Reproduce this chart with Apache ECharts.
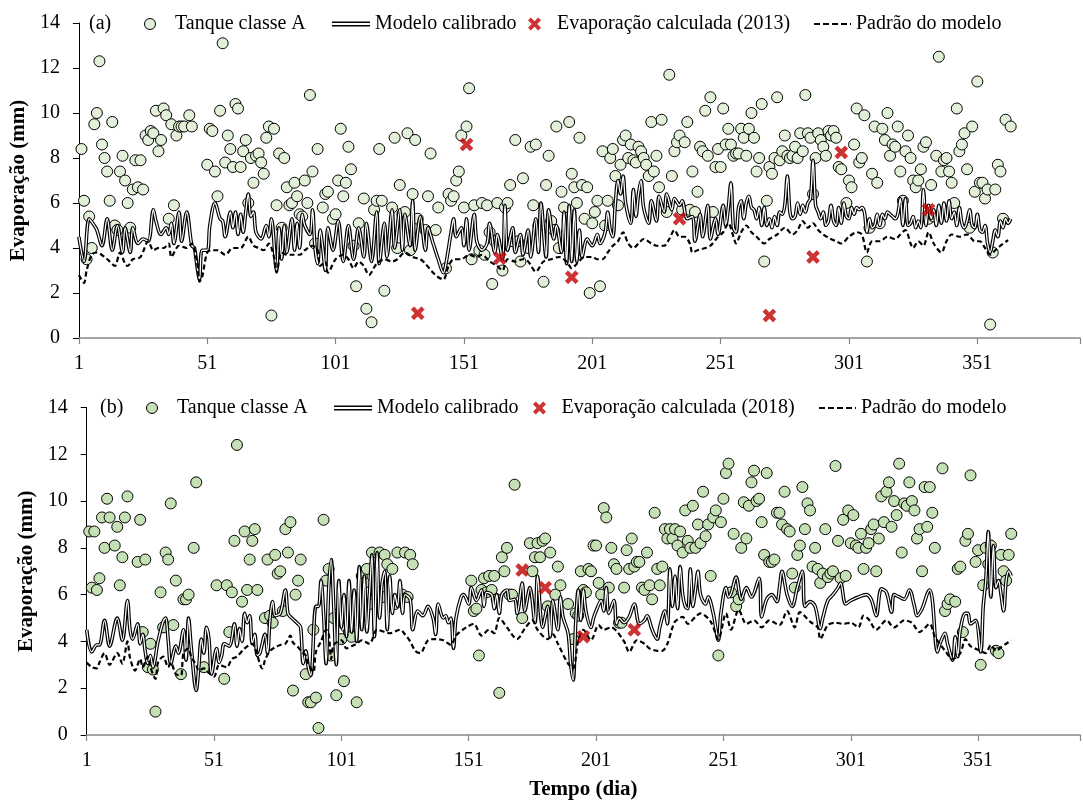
<!DOCTYPE html>
<html lang="pt">
<head>
<meta charset="UTF-8">
<title>Evaporação</title>
<script src="https://cdn.jsdelivr.net/npm/echarts@6/dist/echarts.min.js"></script>
<style>
  html, body { margin: 0; padding: 0; background: #fff; }
  #main { width: 1083px; height: 806px; }
</style>
</head>
<body>
<div id="main"></div>
<script>
// eixos
var dayTicks = [1, 51, 101, 151, 201, 251, 301, 351];
var valueTicks = [0, 2, 4, 6, 8, 10, 12, 14];

// (a) 2013 - [dia, mm]
var tanque2013 = [[2,8.4],[3,6.1],[4,3.5],[5,5.4],[6,4.0],[7,9.5],[8,10.0],[9,12.3],[10,8.6],[11,8.0],[12,7.4],[13,6.1],[14,9.6],[15,5.0],[16,4.8],[17,7.4],[18,8.1],[19,7.0],[20,6.0],[21,4.9],[22,6.6],[23,7.9],[24,6.7],[25,7.9],[26,6.6],[27,9.0],[28,8.8],[29,9.2],[30,9.1],[31,10.1],[32,8.3],[33,8.8],[34,10.2],[35,9.9],[36,5.3],[37,9.5],[38,5.9],[39,9.0],[40,9.4],[41,9.4],[42,9.4],[44,9.9],[45,9.4],[51,7.7],[52,9.3],[53,9.2],[54,7.4],[55,6.3],[56,10.1],[57,13.1],[58,7.8],[59,9.0],[60,8.4],[61,7.6],[62,10.4],[63,10.2],[64,7.6],[65,8.3],[66,8.8],[67,6.0],[68,8.0],[69,6.9],[70,8.1],[71,8.2],[72,7.8],[73,7.3],[74,8.9],[75,9.4],[76,1.0],[77,9.3],[78,5.9],[79,8.2],[80,4.9],[81,8.0],[82,6.7],[83,5.9],[84,6.0],[85,6.9],[86,6.3],[87,5.5],[88,5.4],[89,7.0],[90,6.0],[91,10.8],[92,7.4],[93,4.2],[94,8.4],[96,5.8],[97,6.4],[98,6.5],[100,5.3],[101,5.5],[102,7.0],[103,9.3],[104,6.3],[105,6.9],[106,8.5],[107,7.5],[108,4.1],[109,2.3],[110,5.1],[112,6.2],[113,1.3],[115,0.7],[116,5.7],[117,6.1],[118,8.4],[119,6.1],[120,2.1],[123,5.8],[124,8.9],[125,4.0],[126,6.8],[127,5.5],[128,5.6],[129,9.1],[130,3.9],[131,6.4],[132,8.8],[133,5.3],[136,4.8],[137,6.3],[138,8.2],[140,4.8],[141,5.8],[144,3.1],[145,6.4],[146,6.1],[147,6.3],[148,7.0],[149,7.4],[150,9.0],[151,5.8],[152,9.4],[153,11.1],[154,3.5],[155,5.9],[157,3.9],[158,6.0],[159,3.7],[160,5.9],[161,4.7],[162,2.4],[163,4.3],[164,6.0],[166,3.0],[167,5.8],[168,6.0],[169,6.8],[170,4.3],[171,8.8],[172,4.3],[173,3.4],[174,7.1],[176,4.0],[177,8.5],[178,5.9],[179,8.6],[180,5.0],[182,2.5],[183,6.8],[184,8.1],[185,5.2],[186,4.8],[187,9.4],[188,4.0],[189,6.5],[190,5.8],[191,4.7],[192,9.6],[193,7.3],[194,6.7],[195,6.0],[196,8.9],[197,6.8],[198,5.3],[199,6.7],[200,2.0],[201,5.1],[202,5.6],[203,6.1],[204,2.3],[205,8.3],[206,5.0],[207,6.1],[208,8.0],[209,8.4],[210,7.2],[211,5.9],[212,7.7],[213,8.8],[214,9.0],[215,8.0],[216,8.6],[217,7.9],[218,7.8],[219,8.5],[220,8.3],[221,8.0],[222,7.7],[223,7.2],[224,9.6],[225,7.4],[226,8.1],[227,6.7],[228,9.7],[230,5.6],[231,11.7],[232,7.2],[233,8.3],[234,8.7],[235,9.0],[236,5.7],[237,8.7],[238,9.6],[239,5.7],[240,7.4],[241,5.6],[242,6.5],[243,8.5],[244,8.3],[245,10.1],[246,8.1],[247,10.7],[248,5.6],[249,7.6],[250,8.4],[251,7.6],[252,10.2],[253,8.6],[254,9.3],[255,8.6],[256,8.1],[257,8.2],[258,8.2],[259,9.3],[260,8.9],[261,8.1],[262,9.3],[263,10.0],[264,8.9],[265,7.4],[266,8.0],[267,10.4],[268,3.4],[269,6.1],[270,7.6],[271,7.3],[272,8.0],[273,10.7],[274,7.9],[275,8.3],[276,9.0],[277,8.1],[278,8.0],[279,8.1],[280,8.5],[281,8.0],[282,9.1],[283,8.3],[284,10.8],[285,9.1],[286,8.9],[287,6.4],[288,8.0],[289,9.1],[290,8.8],[291,8.5],[292,8.1],[293,9.2],[294,9.0],[295,9.2],[296,8.9],[297,7.6],[298,7.5],[300,6.0],[301,7.0],[302,6.7],[303,8.6],[304,10.2],[305,7.8],[306,8.0],[307,9.9],[308,3.4],[309,4.9],[310,7.3],[311,9.4],[312,6.9],[313,5.1],[314,9.3],[315,8.8],[316,10.0],[317,8.1],[318,8.6],[319,8.5],[320,9.4],[321,7.4],[322,6.1],[323,8.3],[324,9.0],[325,8.0],[326,7.0],[327,6.7],[328,7.0],[329,7.5],[330,8.5],[331,8.7],[332,5.3],[333,6.8],[334,5.4],[335,8.1],[336,12.5],[337,7.4],[338,7.9],[339,8.0],[340,7.4],[341,6.9],[342,6.0],[343,10.2],[344,8.3],[345,8.6],[346,9.1],[347,7.5],[348,4.9],[349,9.4],[350,6.5],[351,11.4],[352,6.9],[353,6.9],[354,6.2],[355,6.6],[356,0.6],[357,3.8],[358,6.6],[359,7.7],[360,7.4],[361,5.3],[362,9.7],[364,9.4]];

var modelo2013 = [[1,4.5],[3,3.4],[5,5.3],[7,5.0],[8,4.8],[10,4.1],[12,5.3],[14,3.9],[16,5.0],[18,3.8],[19,4.9],[21,3.8],[22,4.9],[24,4.2],[26,4.4],[28,4.3],[30,5.7],[31,5.2],[33,4.6],[35,4.9],[36,4.6],[37,5.1],[38,4.2],[40,5.6],[41,4.3],[43,5.6],[45,4.1],[46,4.0],[47,3.2],[48,2.6],[49,3.9],[51,3.9],[52,5.0],[54,6.0],[56,5.3],[57,5.2],[58,4.5],[60,5.6],[61,4.9],[62,5.6],[63,4.6],[64,5.5],[65,4.7],[66,5.6],[67,6.4],[68,5.4],[69,5.6],[70,4.7],[72,4.4],[74,5.0],[75,4.5],[76,5.3],[78,3.0],[79,4.9],[80,3.5],[81,5.0],[82,3.8],[84,5.3],[85,3.9],[86,5.1],[87,4.0],[88,5.5],[89,5.0],[91,4.6],[92,5.7],[93,4.0],[94,3.3],[95,4.8],[96,4.0],[97,3.0],[98,4.9],[100,3.9],[102,5.2],[104,3.4],[106,5.0],[108,3.5],[110,4.9],[112,3.6],[113,5.1],[115,3.4],[117,5.6],[118,3.3],[120,5.1],[121,3.6],[123,5.7],[124,4.0],[126,5.7],[127,3.9],[128,5.5],[130,4.1],[131,6.1],[132,3.9],[134,5.4],[136,3.9],[137,4.9],[139,4.2],[141,3.5],[143,2.9],[144,3.3],[146,4.7],[147,5.3],[148,4.5],[150,4.9],[151,4.1],[152,5.3],[153,3.9],[155,5.5],[156,4.3],[158,3.9],[160,4.2],[161,5.1],[163,3.8],[164,4.6],[166,3.5],[167,5.9],[168,3.9],[170,4.9],[171,3.8],[173,4.6],[174,3.7],[176,4.8],[177,3.6],[179,5.3],[180,3.8],[181,6.0],[183,3.6],[184,5.7],[186,4.4],[187,5.0],[189,3.8],[190,5.6],[191,3.3],[192,5.9],[193,3.4],[194,5.7],[195,3.4],[196,4.8],[197,3.6],[199,4.4],[201,4.1],[203,4.6],[204,4.2],[206,4.7],[207,5.6],[208,4.8],[209,4.5],[210,6.0],[211,7.0],[212,6.4],[213,7.2],[214,6.0],[216,5.1],[217,6.6],[218,5.4],[219,6.4],[220,7.0],[221,5.8],[223,5.1],[224,6.1],[226,5.2],[227,6.3],[229,5.6],[230,6.4],[232,5.7],[233,6.2],[235,5.9],[236,6.1],[238,5.3],[240,5.4],[241,4.3],[243,5.5],[244,4.5],[246,5.9],[247,4.4],[249,5.3],[250,4.6],[252,5.9],[253,5.0],[254,5.8],[255,6.9],[256,4.9],[257,4.7],[258,5.8],[259,6.1],[260,5.3],[261,6.0],[262,6.3],[263,5.8],[264,5.7],[265,5.3],[266,5.8],[267,5.0],[268,5.8],[269,5.0],[270,5.3],[271,4.9],[272,5.4],[273,5.0],[274,5.6],[275,5.5],[276,5.9],[277,7.2],[278,5.6],[279,5.3],[280,5.4],[281,6.0],[282,5.5],[283,5.9],[284,5.6],[285,6.0],[286,6.2],[287,7.9],[288,5.9],[289,5.6],[290,5.3],[291,5.6],[292,5.0],[293,5.2],[294,5.9],[295,5.2],[296,5.0],[297,5.8],[298,5.1],[299,6.0],[300,5.4],[301,5.3],[302,5.8],[303,5.5],[304,5.8],[305,5.7],[306,5.8],[307,5.6],[308,4.7],[309,5.3],[310,4.9],[311,5.0],[312,5.5],[313,5.0],[314,5.5],[315,5.3],[316,5.6],[317,5.5],[318,5.4],[319,5.3],[320,5.5],[321,6.2],[322,5.0],[323,6.2],[324,5.0],[325,5.1],[326,5.4],[327,4.9],[328,5.2],[329,4.9],[330,6.6],[331,5.0],[332,5.9],[333,5.3],[334,5.7],[335,5.0],[336,5.9],[337,5.1],[338,6.0],[339,5.2],[340,6.1],[341,5.3],[342,5.6],[343,5.0],[344,5.8],[345,5.1],[346,4.9],[347,5.2],[348,5.7],[349,5.0],[350,4.9],[351,5.5],[352,4.8],[353,4.7],[354,5.0],[355,4.2],[356,3.8],[357,4.3],[358,4.8],[359,4.5],[360,5.2],[361,4.9],[362,5.3],[363,5.1],[364,5.3]];

var padrao2013 = [[1,2.8],[3,2.45],[4,3.0],[6,3.7],[8,3.8],[11,3.6],[13,3.4],[15,3.2],[17,3.8],[19,3.3],[20,3.2],[22,3.5],[25,3.6],[28,4.3],[30,3.9],[32,4.0],[34,4.0],[36,4.2],[37,3.6],[40,4.1],[43,4.0],[45,4.2],[47,3.4],[48,2.5],[49,2.7],[51,3.8],[53,3.9],[55,3.9],[58,3.7],[61,4.0],[64,4.0],[67,4.5],[69,4.1],[71,4.0],[73,3.9],[75,4.2],[77,3.6],[78,2.9],[80,3.8],[82,3.7],[84,3.7],[87,3.7],[89,3.9],[92,4.1],[94,3.9],[95,3.2],[97,3.4],[98,2.9],[101,3.5],[104,3.7],[106,3.5],[108,3.1],[110,3.4],[112,3.2],[114,2.8],[117,3.3],[120,3.5],[123,3.4],[125,3.5],[128,3.8],[131,3.6],[134,3.5],[136,3.3],[139,2.9],[141,2.7],[143,2.6],[145,3.2],[147,3.5],[150,3.5],[153,3.7],[156,3.6],[158,3.7],[161,3.4],[164,3.2],[166,3.0],[168,3.5],[171,3.4],[174,3.5],[176,3.4],[179,2.95],[182,3.4],[185,3.5],[188,3.6],[191,3.4],[193,3.1],[195,3.3],[198,3.6],[201,3.6],[203,3.5],[205,3.5],[207,3.8],[209,4.1],[211,4.3],[213,4.7],[215,4.2],[217,4.0],[219,4.2],[221,4.4],[224,4.2],[226,4.1],[229,4.1],[231,4.4],[233,4.8],[235,4.5],[237,4.5],[239,4.2],[240,3.8],[242,3.9],[245,4.0],[247,4.1],[250,4.5],[252,4.7],[254,5.1],[256,4.5],[257,4.2],[259,4.7],[261,5.0],[263,4.7],[265,4.5],[268,4.2],[270,4.4],[273,4.6],[276,4.9],[279,4.6],[281,4.8],[283,5.2],[285,4.9],[287,5.1],[289,4.8],[291,4.6],[294,4.4],[296,4.3],[298,4.2],[301,4.5],[304,4.7],[306,4.6],[308,3.8],[310,4.3],[313,4.3],[316,4.5],[319,4.4],[321,4.6],[323,4.8],[325,4.2],[326,4.0],[328,4.3],[330,4.1],[332,4.7],[334,4.2],[337,3.8],[339,4.3],[341,4.6],[344,4.5],[347,4.6],[350,4.3],[352,4.3],[354,4.0],[356,3.7],[358,3.9],[360,4.1],[363,4.35]];

var calc2013 = [[133,1.1],[152,8.6],[165,3.55],[193,2.7],[235,5.3],[270,1.0],[287,3.6],[298,8.25],[332,5.7]];

// (b) 2018
var tanque2018 = [[2,8.7],[3,6.3],[4,8.7],[5,6.2],[6,6.7],[7,9.3],[8,8.0],[9,10.1],[10,9.3],[12,8.1],[13,8.9],[14,6.4],[15,7.6],[16,9.3],[17,10.2],[21,7.4],[22,9.2],[23,4.4],[24,7.5],[25,2.9],[26,3.9],[27,2.8],[28,1.0],[30,6.1],[31,4.6],[32,7.8],[33,7.5],[34,9.9],[35,4.7],[36,6.6],[38,2.6],[39,5.8],[40,5.8],[41,6.0],[43,8.0],[44,10.8],[47,2.9],[52,6.4],[55,2.4],[56,6.4],[57,4.4],[58,6.1],[59,8.3],[60,12.4],[62,5.7],[63,8.7],[64,6.2],[65,7.5],[66,8.3],[67,8.8],[68,6.2],[71,5.0],[72,7.5],[73,5.1],[74,4.8],[75,7.7],[76,6.9],[77,7.0],[78,5.3],[79,8.8],[80,7.8],[81,9.1],[82,1.9],[83,6.0],[84,6.6],[85,7.5],[87,2.6],[88,1.4],[89,1.4],[90,4.5],[91,1.6],[92,0.3],[94,9.2],[95,6.6],[96,7.1],[97,3.4],[98,5.0],[99,1.7],[100,5.2],[101,4.1],[102,2.3],[103,4.6],[104,4.4],[105,4.2],[107,1.4],[109,6.8],[110,6.5],[111,7.1],[112,5.6],[113,7.8],[115,6.0],[116,7.8],[117,5.9],[118,7.7],[119,7.3],[121,7.1],[122,5.6],[123,7.8],[125,6.0],[126,7.8],[127,5.9],[128,7.7],[129,7.3],[152,6.6],[153,5.3],[154,5.4],[155,3.4],[156,6.2],[157,6.7],[158,6.1],[159,6.8],[160,6.2],[161,6.8],[162,5.8],[163,1.8],[164,7.6],[165,7.0],[166,8.0],[167,6.0],[168,6.0],[169,10.7],[172,5.0],[175,8.2],[176,7.0],[177,7.6],[178,8.2],[179,7.6],[180,8.3],[181,8.4],[182,5.5],[183,7.8],[185,6.0],[186,7.2],[187,6.4],[190,5.6],[192,4.1],[193,5.2],[194,5.1],[195,7.0],[196,6.2],[197,6.1],[198,7.1],[199,7.0],[200,8.1],[201,8.1],[202,6.5],[203,6.0],[204,9.7],[205,9.3],[206,6.3],[207,8.0],[208,7.3],[209,7.1],[210,4.8],[211,4.8],[212,6.3],[213,7.9],[214,7.1],[215,8.4],[216,7.2],[217,7.4],[218,7.4],[219,6.3],[220,6.2],[221,7.8],[222,6.4],[223,5.8],[224,9.5],[225,7.1],[226,6.4],[227,7.2],[228,8.8],[229,8.4],[230,8.8],[231,8.4],[232,8.8],[233,8.1],[234,8.7],[235,7.8],[236,9.6],[237,8.3],[238,8.0],[239,9.8],[240,8.0],[241,9.0],[242,8.2],[243,10.4],[244,8.5],[245,9.0],[246,6.8],[247,9.3],[248,9.6],[249,3.4],[250,9.1],[251,10.1],[252,11.2],[253,11.6],[254,6.1],[255,8.6],[256,5.5],[257,5.8],[258,8.0],[259,9.95],[260,8.4],[261,9.8],[262,10.8],[263,11.3],[264,10.0],[265,10.1],[266,9.1],[267,7.7],[268,11.2],[269,7.4],[270,7.4],[271,7.5],[272,9.5],[273,9.5],[274,9.0],[275,10.4],[276,8.8],[277,8.7],[278,6.9],[279,6.3],[280,7.7],[281,8.1],[282,10.6],[283,8.8],[284,9.9],[285,9.6],[286,7.2],[287,8.0],[288,7.1],[289,6.5],[290,6.9],[291,8.8],[292,6.75],[293,6.9],[294,7.0],[295,11.5],[296,8.3],[297,6.7],[298,9.2],[299,6.8],[300,9.6],[301,8.2],[302,9.4],[303,8.1],[304,8.0],[305,8.6],[306,7.1],[307,8.0],[308,8.2],[309,8.8],[310,9.0],[311,7.0],[312,8.4],[313,10.2],[314,9.1],[315,10.4],[316,10.8],[317,8.9],[318,10.0],[319,9.4],[320,11.6],[321,7.8],[322,9.9],[323,9.8],[324,10.8],[325,10.0],[326,9.6],[327,8.4],[328,8.8],[329,7.0],[330,10.6],[331,8.9],[332,10.6],[333,9.5],[334,8.0],[337,11.4],[338,5.3],[339,5.6],[340,5.8],[342,5.7],[343,7.1],[344,7.2],[345,4.4],[346,8.3],[347,8.6],[348,11.1],[350,7.4],[351,7.9],[352,3.0],[353,6.4],[354,8.0],[355,7.3],[356,8.1],[358,3.6],[359,3.5],[360,7.7],[361,7.0],[362,6.6],[363,7.7],[364,8.6]];

var modelo2018 = [[1,4.5],[3,3.55],[5,3.85],[6,3.85],[8,4.9],[10,3.8],[13,5.0],[15,4.05],[17,5.75],[18,4.5],[19,4.1],[21,4.75],[22,3.9],[23,4.3],[24,3.55],[25,3.05],[26,3.4],[27,2.9],[29,4.0],[31,4.85],[32,5.0],[33,4.05],[34,3.05],[36,3.8],[37,3.5],[39,4.5],[40,3.2],[41,5.0],[42,3.8],[44,1.9],[45,2.9],[46,4.1],[47,3.5],[48,4.6],[49,4.1],[50,2.6],[52,3.7],[53,3.1],[54,3.4],[55,3.9],[57,3.8],[59,4.75],[60,3.8],[61,4.55],[62,4.0],[63,5.2],[64,4.8],[65,5.1],[66,3.9],[67,4.3],[68,3.4],[69,3.5],[71,4.3],[72,3.5],[73,5.0],[74,5.7],[75,5.1],[77,5.2],[79,6.2],[80,5.2],[81,5.05],[84,4.75],[85,4.6],[86,3.05],[87,3.6],[88,2.9],[89,2.55],[91,5.5],[92,5.5],[93,6.6],[94,5.2],[95,3.05],[96,6.2],[97,7.5],[98,5.5],[99,3.0],[100,6.6],[101,4.6],[102,6.0],[103,4.2],[104,6.6],[105,4.4],[106,6.2],[107,4.0],[108,7.2],[109,4.5],[110,6.8],[111,4.4],[112,6.0],[113,7.7],[114,4.2],[115,7.8],[116,5.0],[117,6.5],[118,7.0],[119,4.5],[120,6.8],[121,5.2],[122,6.0],[123,5.5],[124,6.6],[125,5.2],[126,6.0],[128,5.8],[129,4.5],[131,5.3],[133,5.1],[135,5.5],[137,5.0],[138,4.3],[139,5.6],[141,5.0],[142,5.1],[143,4.8],[144,5.0],[145,3.7],[146,5.0],[148,5.9],[149,6.0],[151,5.6],[152,6.3],[154,5.75],[156,6.2],[157,5.5],[158,6.1],[160,6.0],[161,5.4],[162,6.0],[163,5.2],[164,6.0],[166,6.2],[167,5.75],[169,5.8],[170,5.2],[172,6.5],[173,5.3],[175,6.3],[177,4.8],[178,6.8],[180,4.6],[182,5.5],[183,4.2],[184,5.75],[186,4.5],[187,5.9],[188,5.05],[190,4.35],[191,3.05],[192,2.35],[193,4.8],[194,6.2],[195,4.9],[196,6.2],[197,5.3],[199,4.6],[200,5.0],[201,5.3],[203,5.75],[204,5.3],[205,6.3],[206,5.2],[208,5.75],[209,4.75],[210,5.0],[212,4.8],[214,5.05],[216,5.6],[218,4.75],[220,4.9],[221,5.1],[223,4.5],[225,4.1],[226,4.6],[228,5.3],[229,4.75],[230,7.1],[231,5.5],[232,6.8],[233,5.4],[234,7.2],[235,6.0],[236,5.5],[237,5.4],[238,7.1],[239,5.5],[240,6.2],[241,7.0],[242,6.0],[244,5.6],[245,5.9],[247,5.2],[249,4.05],[250,5.2],[252,6.3],[253,5.9],[254,6.05],[256,6.75],[258,5.8],[260,6.3],[262,5.9],[265,6.7],[266,5.05],[268,5.8],[270,6.0],[272,5.7],[273,6.3],[274,7.0],[276,6.0],[278,5.5],[280,6.3],[282,7.0],[283,5.5],[285,5.7],[287,5.5],[289,4.55],[290,5.0],[292,5.75],[294,6.0],[296,6.3],[297,6.5],[299,5.6],[301,5.75],[304,5.9],[307,6.0],[309,5.8],[311,5.1],[313,6.25],[315,6.1],[317,5.25],[318,6.0],[320,5.9],[322,5.8],[324,6.2],[326,5.5],[327,5.1],[329,5.4],[332,6.2],[333,5.8],[335,3.55],[336,3.9],[338,4.35],[339,3.9],[341,3.2],[342,4.2],[343,3.35],[344,4.5],[346,5.2],[347,5.2],[348,4.75],[350,4.9],[352,3.55],[353,5.5],[354,6.6],[355,8.7],[356,5.9],[357,8.1],[358,6.3],[359,6.6],[360,6.0],[361,5.3],[362,6.6],[363,7.0],[364,6.8]];

var padrao2018 = [[1,3.1],[3,2.9],[5,2.85],[6,3.1],[8,3.5],[10,3.0],[13,3.5],[15,3.05],[17,4.0],[18,3.3],[20,2.75],[22,3.25],[23,2.9],[25,3.35],[26,2.9],[28,2.4],[29,3.1],[31,3.35],[33,2.9],[34,3.1],[36,2.6],[38,2.55],[39,3.5],[41,3.7],[42,3.35],[44,3.0],[45,2.75],[47,2.85],[49,2.65],[51,2.5],[53,3.0],[56,2.9],[58,3.25],[60,3.35],[63,3.7],[66,3.9],[67,3.75],[70,2.85],[71,3.2],[73,3.6],[75,3.75],[77,3.85],[79,3.9],[81,4.25],[82,3.95],[84,3.75],[86,3.5],[87,3.4],[88,3.05],[90,2.7],[91,3.55],[93,4.0],[95,4.5],[96,4.35],[97,3.25],[98,3.85],[101,4.05],[103,3.7],[105,3.8],[107,3.9],[109,4.05],[112,3.9],[115,4.5],[118,4.4],[120,4.35],[124,4.5],[126,4.3],[128,4.0],[130,3.6],[132,3.5],[135,4.05],[138,4.1],[141,4.05],[144,3.85],[146,4.25],[150,4.6],[153,4.75],[156,4.25],[159,4.5],[161,4.35],[163,5.0],[166,4.6],[170,4.1],[173,4.55],[176,4.9],[178,4.5],[182,4.1],[184,4.3],[186,3.9],[190,3.05],[192,2.85],[194,4.05],[196,4.5],[199,4.05],[202,4.7],[204,4.5],[207,4.6],[209,4.45],[212,4.0],[214,3.55],[217,4.05],[220,3.9],[222,3.7],[225,3.6],[227,3.6],[229,3.9],[231,4.6],[232,4.85],[235,5.05],[237,4.75],[240,5.05],[242,5.2],[246,4.85],[249,4.1],[252,5.2],[254,4.5],[257,5.35],[260,4.75],[263,4.9],[266,4.6],[269,4.9],[273,4.7],[276,5.3],[279,4.6],[281,5.25],[285,4.85],[288,4.6],[289,4.1],[292,4.7],[295,4.8],[298,4.75],[301,4.8],[304,4.6],[306,5.1],[308,4.95],[311,4.5],[315,4.9],[318,4.6],[322,4.9],[325,4.8],[328,4.4],[332,4.75],[334,4.2],[337,3.75],[338,3.6],[341,3.25],[344,3.5],[346,4.1],[348,3.8],[352,3.6],[354,3.5],[356,3.85],[358,3.6],[360,3.75],[362,3.9],[364,4.05]];

var calc2018 = [[172,7.05],[181,6.3],[196,4.2],[216,4.5]];

var fonte = 'Liberation Serif';
// marcador em X cheio, braços grossos
var xMarca = 'path://M0,2.6L2.6,0L6,3.4L9.4,0L12,2.6L8.6,6L12,9.4L9.4,12L6,8.6L2.6,12L0,9.4L3.4,6Z';
var linhaDupla = 'path://M0,0H38V1.4H0Z M0,3.6H38V5H0Z';
var tracejado = 'path://M0,0H6V2H0Z M9,0H15V2H9Z M18,0H24V2H18Z M27,0H33V2H27Z M36,0H37V2H36Z';

var myChart = echarts.init(document.getElementById('main'), null, { renderer: 'canvas' });

function eixoX(idx, nome) {
  return {
    type: 'value', gridIndex: idx, min: 1, max: 391, interval: 50,
    name: nome, nameLocation: 'middle', nameGap: 44,
    nameTextStyle: { fontFamily: fonte, fontSize: 21, fontWeight: 'bold', color: '#000' },
    axisLine: { onZero: false, lineStyle: { color: '#868686', width: 1.5 } },
    axisTick: { show: true, inside: false, length: 6, lineStyle: { color: '#868686', width: 1.2 } },
    axisLabel: {
      margin: 16, fontFamily: fonte, fontSize: 20, color: '#000',
      formatter: function (v) { return dayTicks.indexOf(v) >= 0 ? String(v) : ''; }
    },
    splitLine: { show: false }
  };
}

function eixoY(idx) {
  return {
    type: 'value', gridIndex: idx, min: 0, max: 14, interval: 2,
    name: 'Evaporação (mm)', nameLocation: 'middle', nameGap: 46,
    nameTextStyle: { fontFamily: fonte, fontSize: 21, fontWeight: 'bold', color: '#000' },
    axisLine: { show: true, lineStyle: { color: '#000', width: 1 } },
    axisTick: { show: true, inside: false, length: 6, lineStyle: { color: '#000' } },
    axisLabel: {
      margin: 19, fontFamily: fonte, fontSize: 20, color: '#000',
      formatter: function (v) { return valueTicks.indexOf(v) >= 0 ? String(v) : ''; }
    },
    splitLine: { show: false }
  };
}

function legenda(left, top, item, w, h) {
  return {
    left: left, top: top, padding: 0, itemWidth: w, itemHeight: h,
    selectedMode: false, symbolKeepAspect: true,
    textStyle: { fontFamily: fonte, fontSize: 20, color: '#000', lineHeight: 20 },
    data: [item]
  };
}

function painel(idx, tanque, modelo, padrao, calc, nomeCalc, corTanque) {
  return [
    {
      name: 'Tanque classe A', type: 'scatter', xAxisIndex: idx, yAxisIndex: idx,
      data: tanque, symbol: 'circle', symbolSize: 11, z: 2,
      itemStyle: { color: corTanque, borderColor: '#000', borderWidth: 1, opacity: 1 }
    },
    {
      name: 'Modelo calibrado', type: 'line', xAxisIndex: idx, yAxisIndex: idx,
      data: modelo, showSymbol: false, symbol: 'none', smooth: 0.35, z: 3,
      itemStyle: { color: '#000' },
      lineStyle: { color: '#000', width: 3.6 }
    },
    {
      name: 'Modelo calibrado', type: 'line', xAxisIndex: idx, yAxisIndex: idx,
      data: modelo, showSymbol: false, symbol: 'none', smooth: 0.35, z: 4,
      itemStyle: { color: '#fff' },
      lineStyle: { color: '#fff', width: 1.3 }
    },
    {
      name: 'Padrão do modelo', type: 'line', xAxisIndex: idx, yAxisIndex: idx,
      data: padrao, showSymbol: false, symbol: 'none', smooth: 0.3, z: 5,
      itemStyle: { color: '#000' },
      lineStyle: { color: '#000', width: 2.2, type: [5, 3] }
    },
    {
      name: nomeCalc, type: 'scatter', xAxisIndex: idx, yAxisIndex: idx,
      data: calc, symbol: xMarca, symbolSize: 13, z: 6,
      itemStyle: { color: '#c00000', borderColor: '#c00000', borderWidth: 0.6 }
    }
  ];
}

var option = {
  animation: false,
  backgroundColor: '#fff',
  textStyle: { fontFamily: fonte },
  title: [
    { text: '(a)', left: 89, top: 14, padding: 0,
      textStyle: { fontFamily: fonte, fontSize: 20, fontWeight: 'normal', color: '#000', lineHeight: 20 } },
    { text: '(b)', left: 100, top: 398, padding: 0,
      textStyle: { fontFamily: fonte, fontSize: 20, fontWeight: 'normal', color: '#000', lineHeight: 20 } }
  ],
  legend: [
    legenda(144, 14, { name: 'Tanque classe A', icon: 'circle', itemStyle: { color: '#e2f0d9', borderColor: '#000', borderWidth: 1 } }, 40, 11),
    legenda(332, 14, { name: 'Modelo calibrado', icon: linhaDupla, itemStyle: { color: '#000', borderWidth: 0 } }, 38, 5),
    legenda(528, 14, { name: 'Evaporação calculada (2013)', icon: xMarca, itemStyle: { color: '#c00000', borderWidth: 0 } }, 35, 13),
    legenda(814, 14, { name: 'Padrão do modelo', icon: tracejado, itemStyle: { color: '#000', borderWidth: 0 } }, 37, 2),
    legenda(146, 398, { name: 'Tanque classe A', icon: 'circle', itemStyle: { color: '#c5e0b4', borderColor: '#000', borderWidth: 1 } }, 40, 11),
    legenda(334, 398, { name: 'Modelo calibrado', icon: linhaDupla, itemStyle: { color: '#000', borderWidth: 0 } }, 38, 5),
    legenda(533, 398, { name: 'Evaporação calculada (2018)', icon: xMarca, itemStyle: { color: '#c00000', borderWidth: 0 } }, 34, 13),
    legenda(819, 398, { name: 'Padrão do modelo', icon: tracejado, itemStyle: { color: '#000', borderWidth: 0 } }, 37, 2)
  ],
  grid: [
    { left: 77.3, top: 23, width: 1011.7, height: 315, containLabel: false },
    { left: 86.7, top: 407.5, width: 1001.5, height: 327.5, containLabel: false }
  ],
  xAxis: [eixoX(0, ''), eixoX(1, 'Tempo (dia)')],
  yAxis: [eixoY(0), eixoY(1)],
  series: painel(0, tanque2013, modelo2013, padrao2013, calc2013, 'Evaporação calculada (2013)', '#e2f0d9')
    .concat(painel(1, tanque2018, modelo2018, padrao2018, calc2018, 'Evaporação calculada (2018)', '#c5e0b4'))
};

myChart.setOption(option);
</script>
</body>
</html>
